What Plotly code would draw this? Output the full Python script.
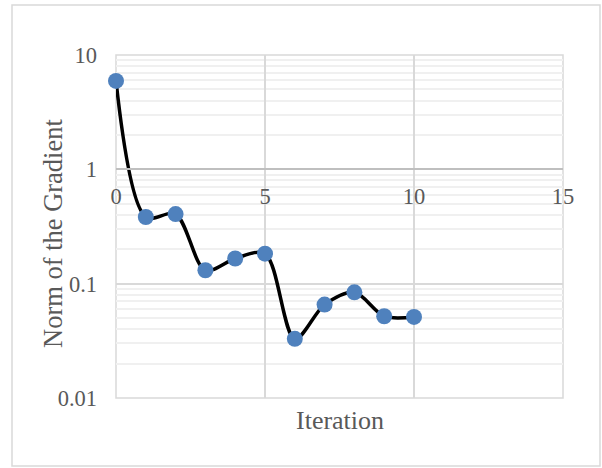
import plotly.graph_objects as go

# Convergence history: gradient norm per iteration
iterations = [0, 1, 2, 3, 4, 5, 6, 7, 8, 9, 10]
grad_norm = [5.93, 0.383, 0.406, 0.131, 0.166, 0.183, 0.0329, 0.0656, 0.084, 0.0519, 0.0512]

y_tick_vals = [0.01, 0.1, 1, 10]
y_tick_text = ["0.01", "0.1", "1", "10"]
x_tick_vals = [0, 5, 10, 15]

minor_vals = [m * d for d in (0.01, 0.1, 1) for m in range(2, 10)]

TEXT = "#595959"
FONT = "Liberation Serif, Times New Roman, serif"
GRID = "#d9d9d9"

fig = go.Figure()
fig.add_trace(go.Scatter(
    x=iterations, y=grad_norm, mode="lines+markers",
    line=dict(color="black", width=3.5, shape="spline", smoothing=0.9),
    marker=dict(color="#4f81bd", size=16),
    showlegend=False, cliponaxis=False,
))

L, R, T, B = 116, 39, 55, 70
W, H = 602, 468
pw, ph = W - L - R, H - T - B

fig.update_layout(
    width=W, height=H,
    margin=dict(l=L, r=R, t=T, b=B),
    paper_bgcolor="white", plot_bgcolor="white",
    font=dict(family=FONT, color=TEXT, size=22),
    xaxis=dict(
        range=[0, 15], tickvals=x_tick_vals,
        showgrid=True, gridcolor=GRID, gridwidth=1.5,
        zeroline=False, anchor="free", position=2 / 3,
        showline=True, linecolor="#bfbfbf", linewidth=1.5,
        ticks="", ticklabelstandoff=7,
        tickfont=dict(family=FONT, color=TEXT, size=22.5),
    ),
    yaxis=dict(
        type="log", range=[-2, 1],
        tickvals=y_tick_vals, ticktext=y_tick_text,
        showgrid=True, gridcolor=GRID, gridwidth=1.5,
        zeroline=False, showline=False, ticks="", ticklabelstandoff=18,
        tickfont=dict(family=FONT, color=TEXT, size=22.5),
        minor=dict(tickvals=minor_vals, showgrid=True, gridcolor="#f0f0f0", gridwidth=1.5, ticks=""),
    ),
    shapes=[
        # outer chart border
        dict(type="rect", xref="paper", yref="paper",
             x0=(12 - L) / pw, x1=(600 - L) / pw,
             y0=(H - B - 466) / ph, y1=(H - B - 5) / ph,
             line=dict(color=GRID, width=1.5), fillcolor="rgba(0,0,0,0)", layer="below"),
        # plot-area frame (edge gridlines)
        dict(type="rect", xref="x domain", yref="y domain",
             x0=0, x1=1, y0=0, y1=1,
             line=dict(color=GRID, width=1.5), fillcolor="rgba(0,0,0,0)", layer="below"),
    ],
    annotations=[
        dict(text="Iteration", xref="paper", yref="paper",
             x=0.5, y=(H - B - 420) / ph, xanchor="center", yanchor="middle",
             showarrow=False, font=dict(family=FONT, color=TEXT, size=26)),
        dict(text="Norm of the Gradient", xref="paper", yref="paper",
             x=(53 - L) / pw, y=(H - B - 234) / ph, xanchor="center", yanchor="middle",
             textangle=-90, showarrow=False,
             font=dict(family=FONT, color=TEXT, size=26.5)),
    ],
)

fig.write_html("out.html")
